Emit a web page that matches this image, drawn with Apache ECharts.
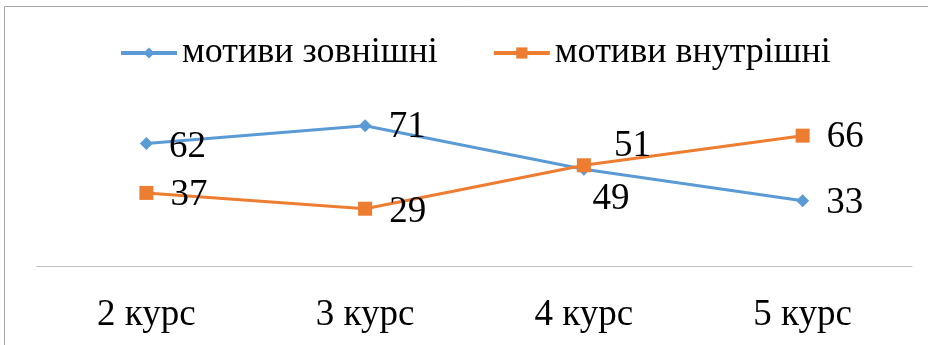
<!DOCTYPE html>
<html lang="uk">
<head>
    <meta charset="UTF-8">
    <title>Мотиви</title>
    <script src="https://cdn.jsdelivr.net/npm/echarts@6.0.0/dist/echarts.min.js"></script>
    <style>
        html, body { margin: 0; padding: 0; background: #fff; }
    </style>
</head>
<body>
<div id="chart" style="width: 928px; height:345px;"></div>
<script>
    var courses = ['2 курс', '3 курс', '4 курс', '5 курс'];
    var outerMotives = [62, 71, 49, 33];
    var innerMotives = [37, 29, 51, 66];

    // label nudges per point, to sit like the original
    var outerOffsets = [[-1, 4], [0, 2], [-15, 30], [0, 2]];
    var innerOffsets = [[0, 2], [0, 4], [6, -19], [0, 2]];

    function withLabels(values, offsets) {
        return values.map(function (v, i) {
            return { value: v, label: { offset: offsets[i] } };
        });
    }

    var font = '"Liberation Serif", "DejaVu Serif", serif';
    var chart = echarts.init(document.getElementById('chart'));
    var option = {
        animation: false,
        textStyle: { fontFamily: font },
        graphic: [{
            type: 'rect',
            shape: { x: 4.5, y: 6.5, width: 930, height: 345 },
            style: { fill: 'none', stroke: '#a6a6a6', lineWidth: 1 },
            silent: true
        }],
        legend: {
            top: 30,
            left: 114,
            itemWidth: 56,
            itemHeight: 14,
            itemGap: 54,
            textStyle: { fontFamily: font, fontSize: 36, color: '#000' },
            lineStyle: { width: 4 },
            data: ['мотиви зовнішні', 'мотиви внутрішні']
        },
        grid: { left: 37, right: 16, top: 108, bottom: 79 },
        xAxis: {
            type: 'category',
            data: courses,
            boundaryGap: true,
            axisLine: { lineStyle: { color: '#bfbfbf', width: 1 } },
            axisTick: { show: false },
            axisLabel: { fontFamily: font, fontSize: 37, color: '#000', margin: 31 }
        },
        yAxis: {
            type: 'value',
            min: 0,
            max: 80,
            show: false
        },
        series: [
            {
                name: 'мотиви зовнішні',
                type: 'line',
                data: withLabels(outerMotives, outerOffsets),
                symbol: 'diamond',
                symbolSize: 13,
                color: '#5b9bd5',
                lineStyle: { width: 3 },
                label: {
                    show: true, position: 'right', distance: 17,
                    fontFamily: font, fontSize: 37, color: '#000'
                }
            },
            {
                name: 'мотиви внутрішні',
                type: 'line',
                data: withLabels(innerMotives, innerOffsets),
                symbol: 'rect',
                symbolSize: 14,
                color: '#ed7d31',
                lineStyle: { width: 3 },
                label: {
                    show: true, position: 'right', distance: 17,
                    fontFamily: font, fontSize: 37, color: '#000'
                }
            }
        ]
    };
    chart.setOption(option);
</script>
</body>
</html>
